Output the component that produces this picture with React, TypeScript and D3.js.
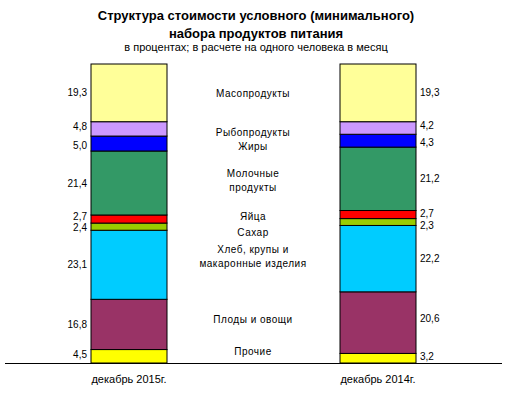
import React from "react";
import * as d3 from "d3";

const periods = ["декабрь 2015г.", "декабрь 2014г."];
const categories = [
  "Прочие",
  "Плоды и овощи",
  "Хлеб, крупы и макаронные изделия",
  "Сахар",
  "Яйца",
  "Молочные продукты",
  "Жиры",
  "Рыбопродукты",
  "Масопродукты",
];
const dec2015 = [4.5, 16.8, 23.1, 2.4, 2.7, 21.4, 5.0, 4.8, 19.3];
const dec2014 = [3.2, 20.6, 22.2, 2.3, 2.7, 21.2, 4.3, 4.2, 19.3];
const colors = ["#FFFF00", "#993366", "#00CCFF", "#99CC00", "#FF0000", "#339966", "#0000FF", "#CC99FF", "#FFFF99"];
// category label lines and their anchor level on the 0–100 percent scale
const labelLines = [["Прочие"], ["Плоды и овощи"], ["Хлеб, крупы и", "макаронные изделия"], ["Сахар"], ["Яйца"], ["Молочные", "продукты"], ["Жиры"], ["Рыбопродукты"], ["Масопродукты"]];
const labelAt = [3.7, 14.4, 35.5, 43.5, 49.1, 60.9, 72.5, 77.0, 90.3];
// small pixel nudges of value labels to keep neighbours apart
const nudges = [
  [-2, 0, 0, 1, -3, 0, 1.5, -2, 0],
  [-2, -4, 0, 3, -1.5, 0, 1.5, -2, 0],
];

const W = 511, H = 395;
const font = "'Liberation Sans', Arial, sans-serif";

export default function App() {
  const x = d3.scalePoint<string>().domain(periods).range([129, 378]);
  const y = d3.scaleLinear().domain([0, 100]).range([363, 64]);
  const barW = 76;
  const series = [dec2015, dec2014];
  const stacks = series.map((vals) => {
    let acc = 0;
    return vals.map((v) => {
      const s = { y0: acc, y1: acc + v, v };
      acc += v;
      return s;
    });
  });
  const fmt = (v: number) => v.toFixed(1).replace(".", ",");
  return (
    <svg width={W} height={H} style={{ position: "absolute", left: 0, top: 0, background: "#fff" }} fontFamily={font}>
      <rect width={W} height={H} fill="#fff" />
      <text x={256} y={20} textAnchor="middle" fontSize={13} fontWeight="bold">Структура стоимости условного (минимального)</text>
      <text x={256} y={38} textAnchor="middle" fontSize={13} fontWeight="bold">набора продуктов питания</text>
      <text x={256} y={51} textAnchor="middle" fontSize={11}>в процентах; в расчете на одного человека в месяц</text>
      {stacks.map((st, bi) => {
        const cx = x(periods[bi])!;
        return (
          <g key={bi}>
            {st.map((s, i) => (
              <rect key={i} x={cx - barW / 2} y={y(s.y1)} width={barW} height={y(s.y0) - y(s.y1)} fill={colors[i]} stroke="#000" strokeWidth={1} />
            ))}
            {st.map((s, i) => (
              <text key={"t" + i} x={bi === 0 ? cx - barW / 2 - 4 : cx + barW / 2 + 4} y={y((s.y0 + s.y1) / 2) + nudges[bi][i]} dy="0.35em" textAnchor={bi === 0 ? "end" : "start"} fontSize={10}>{fmt(s.v)}</text>
            ))}
            <text x={cx} y={383} textAnchor="middle" fontSize={11}>{periods[bi]}</text>
          </g>
        );
      })}
      {labelLines.map((lines, i) => (
        <text key={i} x={253} y={y(labelAt[i]) - (lines.length - 1) * 7} textAnchor="middle" fontSize={10} letterSpacing={0.5}>
          {lines.map((l, j) => (
            <tspan key={j} x={253} dy={j === 0 ? "0.35em" : 14}>{l}</tspan>
          ))}
        </text>
      ))}
      <line x1={5} x2={502} y1={363.5} y2={363.5} stroke="#000" strokeWidth={1} />
    </svg>
  );
}
